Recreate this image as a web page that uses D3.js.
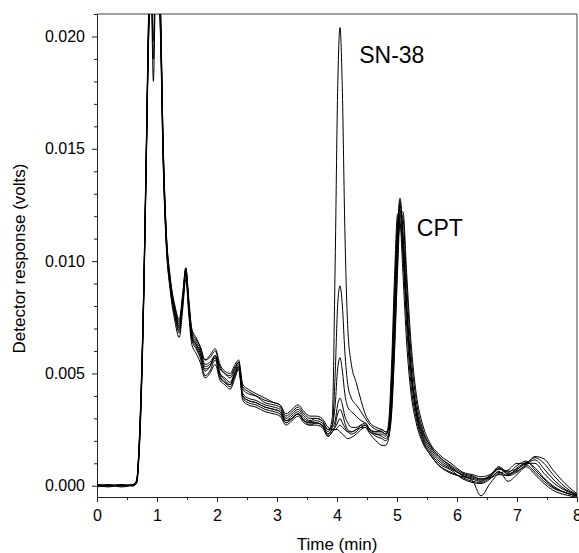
<!DOCTYPE html>
<html>
<head>
<meta charset="utf-8">
<script src="https://cdn.jsdelivr.net/npm/d3@7"></script>
<style>
  body { margin: 0; background: #fff; }
  text { font-family: "Liberation Sans", Arial, sans-serif; fill: #000; }
</style>
</head>
<body>
<div id="chart"></div>
<script>
// Data: time (min) shared by all runs, response of each run in mV
// ==============================
var timeMin = [
  0, 0.2, 0.4, 0.6, 0.66, 0.70, 0.74, 0.78, 0.82, 0.86, 0.90, 0.94, 0.98,
  1.02, 1.06, 1.10, 1.15, 1.22, 1.30, 1.37, 1.43, 1.48, 1.53, 1.58, 1.65, 1.72, 1.80, 1.88, 1.97,
  2.05, 2.13, 2.22, 2.30, 2.36, 2.43, 2.52, 2.65, 2.80, 2.95, 3.05, 3.15, 3.25, 3.35, 3.45, 3.55, 3.65, 3.75, 3.85, 3.92,
  3.97, 4.01, 4.05, 4.09, 4.13, 4.18, 4.24, 4.32, 4.40, 4.47, 4.55, 4.65, 4.75, 4.81,
  4.86, 4.91, 4.96, 5.01, 5.05, 5.10, 5.16, 5.23, 5.32, 5.43, 5.55, 5.70, 5.90,
  6.10, 6.25, 6.40, 6.55, 6.70, 6.85, 7.00, 7.15, 7.30, 7.45, 7.60, 7.80, 8.00
];

var run1 = [
  0.0, 0.05, 0.0, 0.05, 0.2, 1.6, 4.5, 8.8, 14.6, 20.5, 23.5, 24.0, 24.5,
  23.5, 20.5, 15.2, 11.3, 9.0, 7.7, 7.0, 8.3, 9.6, 8.0, 6.7, 6.3, 5.9, 5.1, 5.3, 5.8,
  5.0, 4.8, 4.6, 5.1, 5.4, 4.1, 3.9, 3.8, 3.6, 3.5, 3.4, 2.9, 3.1, 3.3, 3.0, 2.85, 2.9, 2.8, 2.4, 3.0,
  10.0, 17.5, 20.4, 17.5, 11.5, 7.0, 5.4, 4.6, 3.8, 3.2, 2.8, 2.6, 2.5, 2.4,
  2.5, 4.2, 7.8, 11.2, 12.7, 11.2, 8.2, 5.4, 3.4, 2.3, 1.7, 1.2, 0.8,
  0.45, 0.35, 0.25, 0.4, 0.75, 0.55, 0.7, 1.05, 0.8, 0.35, 0.0, -0.3, -0.45
];
var run2 = [
  0.05, 0.0, 0.05, 0.0, 0.15, 1.4, 4.2, 8.5, 14.2, 20.0, 22.0, 18.0, 22.5,
  22.5, 20.0, 14.8, 11.0, 8.8, 7.5, 6.8, 8.1, 9.4, 7.8, 6.5, 6.1, 5.7, 4.9, 5.1, 5.6,
  4.8, 4.6, 4.4, 4.9, 5.2, 3.9, 3.7, 3.6, 3.4, 3.3, 3.2, 2.8, 3.0, 3.2, 2.9, 2.7, 2.8, 2.7, 2.3, 2.6,
  5.0, 8.0, 8.9, 8.0, 6.0, 4.5, 3.9, 3.6, 3.3, 3.0, 2.7, 2.5, 2.4, 2.3,
  2.4, 4.0, 7.5, 11.0, 12.5, 11.0, 8.0, 5.2, 3.3, 2.2, 1.6, 1.1, 0.75,
  0.5, 0.4, 0.3, 0.45, 0.85, 0.6, 0.9, 1.1, 0.7, 0.3, -0.05, -0.3, -0.45
];
var run3 = [
  -0.05, 0.0, 0.0, 0.05, 0.25, 1.8, 4.8, 9.1, 15.0, 21.0, 23.0, 19.0, 23.0,
  23.0, 20.3, 15.0, 11.2, 9.1, 7.8, 7.2, 8.4, 9.5, 8.1, 6.8, 6.4, 6.1, 5.4, 5.5, 5.8,
  5.2, 5.0, 4.8, 5.2, 5.5, 4.3, 4.1, 4.0, 3.8, 3.7, 3.6, 3.1, 3.3, 3.5, 3.2, 3.0, 3.0, 2.9, 2.5, 2.7,
  3.6, 5.2, 5.7, 5.1, 4.1, 3.5, 3.3, 3.1, 2.9, 2.8, 2.5, 2.3, 2.3, 2.2,
  2.8, 5.4, 9.4, 12.1, 11.8, 9.4, 6.4, 4.2, 2.8, 1.9, 1.4, 0.9, 0.6,
  0.35, 0.2, 0.15, 0.35, 0.6, 0.45, 0.8, 1.0, 1.0, 0.55, 0.15, -0.2, -0.4
];
var run4 = [
  0.0, -0.05, 0.05, 0.0, 0.2, 1.5, 4.4, 8.7, 14.4, 20.3, 24.0, 24.5, 24.0,
  24.0, 21.0, 15.5, 11.5, 9.2, 7.9, 7.3, 8.5, 9.7, 8.2, 6.9, 6.5, 6.2, 5.6, 5.7, 6.0,
  5.3, 5.0, 4.9, 5.3, 5.5, 4.4, 4.2, 4.0, 3.7, 3.6, 3.5, 3.0, 3.2, 3.4, 3.1, 2.9, 3.0, 2.9, 2.5, 2.6,
  2.9, 3.6, 3.9, 3.6, 3.1, 2.8, 2.6, 2.6, 2.7, 2.7, 2.4, 2.3, 2.2, 2.1,
  2.3, 3.4, 6.3, 10.0, 12.2, 11.9, 9.0, 6.0, 3.8, 2.5, 1.8, 1.3, 0.9,
  0.55, 0.45, 0.3, 0.35, 0.55, 0.7, 1.0, 0.95, 0.6, 0.2, -0.1, -0.3, -0.45
];
var run5 = [
  0.05, 0.0, 0.0, 0.0, 0.1, 1.3, 4.0, 8.3, 14.0, 19.8, 22.5, 19.8, 23.5,
  22.8, 19.8, 14.6, 10.9, 8.7, 7.3, 6.6, 7.9, 9.2, 7.6, 6.3, 5.9, 5.5, 4.8, 5.0, 5.4,
  4.7, 4.5, 4.3, 4.8, 5.2, 3.8, 3.6, 3.5, 3.3, 3.2, 3.1, 2.7, 2.9, 3.1, 2.8, 2.7, 2.7, 2.6, 2.2, 2.4,
  2.7, 3.2, 3.4, 3.2, 2.8, 2.5, 2.4, 2.5, 2.7, 2.8, 2.5, 2.4, 2.4, 2.3,
  2.6, 4.8, 8.6, 11.8, 12.3, 10.2, 7.2, 4.6, 3.0, 2.0, 1.4, 0.9, 0.55,
  0.4, 0.25, -0.45, 0.1, 0.5, 0.45, 0.6, 0.95, 1.15, 0.75, 0.3, -0.15, -0.4
];
var run6 = [
  0.0, 0.05, -0.05, 0.05, 0.2, 1.7, 4.6, 9.0, 14.8, 20.8, 24.5, 25.0, 24.0,
  23.8, 20.8, 15.4, 11.4, 9.1, 7.8, 7.1, 8.3, 9.6, 8.0, 6.6, 6.3, 6.0, 5.3, 5.4, 5.7,
  5.0, 4.7, 4.5, 5.0, 5.3, 4.0, 3.8, 3.7, 3.5, 3.4, 3.3, 2.9, 3.0, 3.2, 2.9, 2.8, 2.8, 2.7, 2.3, 2.5,
  2.6, 2.8, 3.0, 2.8, 2.6, 2.4, 2.3, 2.4, 2.6, 2.6, 2.4, 2.2, 2.1, 2.0,
  2.2, 3.2, 6.0, 9.6, 11.9, 12.2, 9.5, 6.5, 4.1, 2.7, 1.9, 1.4, 1.0,
  0.6, 0.5, 0.4, 0.5, 0.75, 0.65, 0.75, 1.0, 1.25, 1.0, 0.5, -0.05, -0.4
];
var run7 = [
  0.0, 0.0, 0.05, 0.0, 0.15, 1.5, 4.3, 8.6, 14.3, 20.2, 23.8, 23.5, 24.5,
  24.0, 21.2, 15.6, 11.6, 9.3, 8.0, 7.4, 8.6, 9.7, 8.3, 7.0, 6.6, 6.2, 5.6, 5.8, 6.1,
  5.4, 5.1, 5.0, 5.4, 5.6, 4.5, 4.3, 4.1, 3.9, 3.7, 3.6, 3.2, 3.4, 3.6, 3.3, 3.1, 3.1, 3.0, 2.6, 2.5,
  2.5, 2.6, 2.7, 2.6, 2.5, 2.4, 2.4, 2.5, 2.6, 2.7, 2.5, 2.4, 2.5, 2.4,
  2.5, 4.4, 8.0, 11.5, 12.8, 11.0, 7.9, 5.1, 3.2, 2.1, 1.5, 1.0, 0.7,
  0.3, 0.15, 0.1, 0.3, 0.65, 0.2, 0.5, 0.9, 1.3, 1.2, 0.7, 0.1, -0.35
];
var run8 = [
  0.05, 0.0, 0.0, 0.05, 0.2, 1.6, 4.5, 8.8, 14.5, 20.4, 23.2, 24.2, 24.0,
  23.2, 20.4, 15.1, 11.2, 9.0, 7.6, 6.9, 8.2, 9.5, 7.9, 6.6, 6.2, 5.8, 5.2, 5.3, 5.7,
  4.9, 4.6, 4.5, 5.0, 5.3, 4.0, 3.8, 3.7, 3.5, 3.4, 3.3, 2.8, 3.0, 3.2, 2.9, 2.8, 2.8, 2.7, 2.2, 2.4,
  2.5, 2.5, 2.4, 2.3, 2.2, 2.1, 2.15, 2.3, 2.5, 2.6, 2.3, 2.0, 1.8, 1.8,
  2.1, 3.8, 7.2, 10.6, 11.6, 10.5, 7.8, 5.3, 3.5, 2.4, 1.8, 1.3, 0.85,
  0.45, 0.3, 0.2, 0.45, 0.8, 0.5, 0.65, 0.85, 0.5, 0.1, -0.2, -0.4, -0.5
];
var runs = [run1, run2, run3, run4, run5, run6, run7, run8];

var xTicks = [0, 1, 2, 3, 4, 5, 6, 7, 8];
var yTicks = [0, 0.005, 0.010, 0.015, 0.020];
var peakNames = ["SN-38", "CPT"];

// Chart area
// ==============================
var svgWidth = 579;
var svgHeight = 553;
var margin = { top: 14, right: 2, bottom: 56, left: 97 };
var width = svgWidth - margin.left - margin.right;
var height = svgHeight - margin.top - margin.bottom;

var svg = d3.select("#chart")
  .append("svg")
  .attr("width", svgWidth)
  .attr("height", svgHeight);

svg.append("rect")
  .attr("width", "100%")
  .attr("height", "100%")
  .attr("fill", "white");

var chartGroup = svg.append("g")
  .attr("transform", `translate(${margin.left}, ${margin.top})`);

// Scales
var xScale = d3.scaleLinear().domain([0, 8]).range([0, width]);
var yScale = d3.scaleLinear().domain([-0.0005, 0.021]).range([height, 0]);

// Axes (major + minor ticks)
var xMinor = d3.range(0.5, 8, 1);
var yMinor = d3.range(0, 0.0215, 0.001).filter(d => Math.round(d * 1000) % 5 !== 0);

chartGroup.append("g")
  .attr("transform", `translate(0, ${height})`)
  .call(d3.axisBottom(xScale).tickValues(xMinor).tickSize(3).tickSizeOuter(0).tickFormat(""));

var xAxisG = chartGroup.append("g")
  .attr("transform", `translate(0, ${height})`)
  .call(d3.axisBottom(xScale).tickValues(xTicks).tickSize(5).tickSizeOuter(0).tickPadding(8)
    .tickFormat(d3.format("d")));

chartGroup.append("g")
  .call(d3.axisLeft(yScale).tickValues(yMinor).tickSize(3).tickSizeOuter(0).tickFormat(""));

var yAxisG = chartGroup.append("g")
  .call(d3.axisLeft(yScale).tickValues(yTicks).tickSize(5).tickSizeOuter(0).tickPadding(7)
    .tickFormat(d3.format(".3f")));

chartGroup.selectAll(".tick text")
  .attr("font-size", 16)
  .attr("font-family", '"Liberation Sans", Arial, sans-serif');
chartGroup.selectAll(".domain, .tick line").attr("stroke", "#222");

// frame on top and right
chartGroup.append("line")
  .attr("x1", 0).attr("x2", width).attr("y1", 0).attr("y2", 0)
  .attr("stroke", "#444");
chartGroup.append("line")
  .attr("x1", width).attr("x2", width).attr("y1", 0).attr("y2", height)
  .attr("stroke", "#444");

// Traces
// ==============================
chartGroup.append("clipPath")
  .attr("id", "plotClip")
  .append("rect")
  .attr("width", width)
  .attr("height", height);

var line = d3.line()
  .x((d, i) => xScale(timeMin[i]))
  .y(d => yScale(d / 1000))
  .curve(d3.curveMonotoneX);

chartGroup.append("g")
  .attr("clip-path", "url(#plotClip)")
  .selectAll("path")
  .data(runs)
  .enter()
  .append("path")
  .attr("d", line)
  .attr("fill", "none")
  .attr("stroke", "#000")
  .attr("stroke-width", 1);

// Peak labels
chartGroup.append("text")
  .attr("x", xScale(4.37))
  .attr("y", yScale(0.0188))
  .attr("font-size", 23)
  .text(peakNames[0]);

chartGroup.append("text")
  .attr("x", xScale(5.33))
  .attr("y", yScale(0.0111))
  .attr("font-size", 23)
  .text(peakNames[1]);

// Axis titles
chartGroup.append("text")
  .attr("x", width / 2)
  .attr("y", height + 53)
  .attr("text-anchor", "middle")
  .attr("font-size", 17)
  .text("Time (min)");

chartGroup.append("text")
  .attr("transform", "rotate(-90)")
  .attr("x", -(height / 2) - 3)
  .attr("y", -72)
  .attr("text-anchor", "middle")
  .attr("font-size", 17)
  .text("Detector response (volts)");
</script>
</body>
</html>
